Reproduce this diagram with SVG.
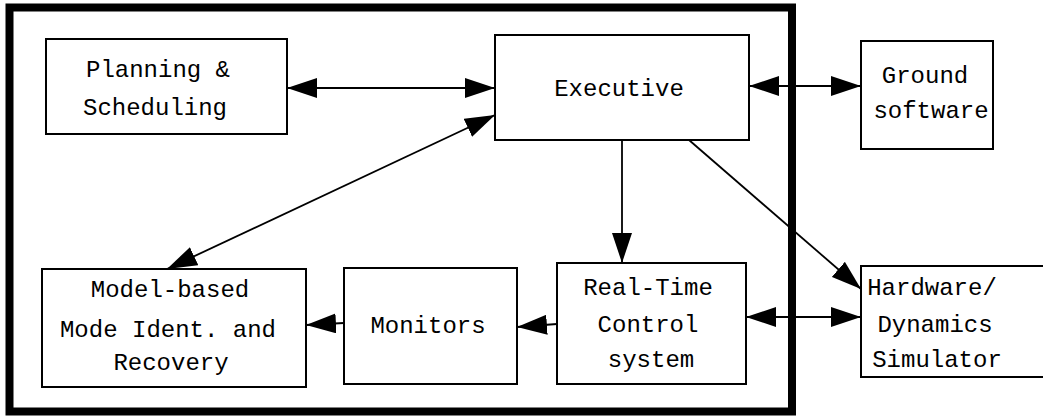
<svg xmlns="http://www.w3.org/2000/svg" width="1043" height="417" viewBox="0 0 1043 417">
<style>
.box{fill:#fff;stroke:#000;stroke-width:2}
.frame{fill:none;stroke:#000;stroke-width:8}
.t{font-family:"Liberation Mono","DejaVu Sans Mono",monospace;font-size:24px;fill:#000;text-anchor:middle}
.c{stroke:#000;stroke-width:1.8;fill:none}
</style>
<defs>
<marker id="ah" markerUnits="userSpaceOnUse" markerWidth="31" markerHeight="20" refX="30" refY="10" orient="auto-start-reverse" viewBox="0 0 31 20">
<path d="M0,0 L30,10 L0,20 z" fill="#000"/>
</marker>
</defs>
<rect x="0" y="0" width="1043" height="417" fill="#fff"/>
<rect class="frame" x="9.5" y="7.5" width="782.5" height="404"/>
<g id="planning"><rect class="box" x="46" y="39" width="241" height="95"/><text class="t" x="158" y="77">Planning &amp;</text><text class="t" x="155" y="115">Scheduling</text></g>
<g id="executive"><rect class="box" x="495" y="35" width="254" height="105"/><text class="t" x="619" y="96">Executive</text></g>
<g id="ground"><rect class="box" x="861" y="41" width="132" height="108"/><text class="t" x="925" y="83">Ground</text><text class="t" x="931" y="118">software</text></g>
<g id="model"><rect class="box" x="42" y="269" width="264" height="118"/><text class="t" x="170" y="297">Model-based</text><text class="t" x="168" y="337">Mode Ident. and</text><text class="t" x="171" y="370">Recovery</text></g>
<g id="monitors"><rect class="box" x="344" y="268" width="173" height="116"/><text class="t" x="428" y="333">Monitors</text></g>
<g id="realtime"><rect class="box" x="557" y="263" width="189" height="121"/><text class="t" x="648" y="295">Real-Time</text><text class="t" x="648" y="332">Control</text><text class="t" x="651" y="367">system</text></g>
<g id="hardware"><rect class="box" x="861" y="266" width="195" height="111"/><text class="t" x="932" y="295">Hardware/</text><text class="t" x="935" y="332">Dynamics</text><text class="t" x="937" y="367">Simulator</text></g>
<g id="connectors">
<line class="c" x1="287" y1="88" x2="495" y2="88" marker-start="url(#ah)" marker-end="url(#ah)"/>
<line class="c" x1="167" y1="269" x2="495" y2="115" marker-start="url(#ah)" marker-end="url(#ah)"/>
<line class="c" x1="749" y1="86" x2="861" y2="86" marker-start="url(#ah)" marker-end="url(#ah)"/>
<line class="c" x1="622" y1="140" x2="622" y2="263" marker-end="url(#ah)"/>
<line class="c" x1="689" y1="140" x2="861" y2="289" marker-end="url(#ah)"/>
<line class="c" x1="746" y1="317" x2="861" y2="317" marker-start="url(#ah)" marker-end="url(#ah)"/>
<line class="c" x1="557" y1="324" x2="517" y2="327" marker-end="url(#ah)"/>
<line class="c" x1="344" y1="323" x2="306" y2="325" marker-end="url(#ah)"/>
</g>
</svg>
